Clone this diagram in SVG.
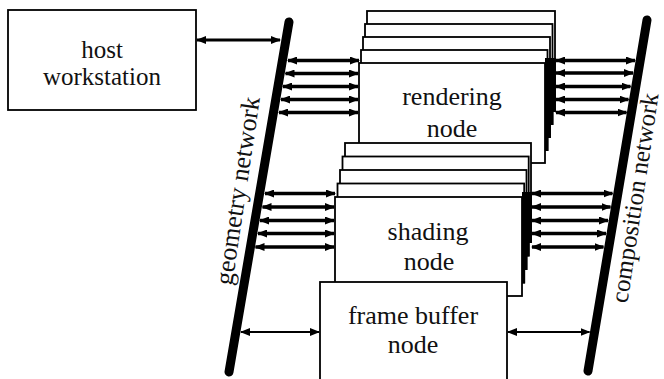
<svg xmlns="http://www.w3.org/2000/svg" width="664" height="379" viewBox="0 0 664 379">
<defs>
<style>
.box{fill:#fff;stroke:#000;stroke-width:1.8}
.band{fill:#000;stroke:none}
.lbl{font-family:"Liberation Serif","Times New Roman",serif;font-size:26px;fill:#111;text-anchor:middle}
.sm{font-size:25px}
.net{stroke:#000;stroke-width:9;stroke-linecap:round;fill:none}
.arr{stroke:#000;fill:none;marker-start:url(#ah);marker-end:url(#ah)}
.thick{stroke-width:3.5}
.mid{stroke-width:3}
.thin{stroke-width:2}
</style>
<marker id="ah" markerUnits="userSpaceOnUse" markerWidth="10" markerHeight="8" refX="9" refY="4" orient="auto-start-reverse">
<path d="M0,0 L10,4 L0,8 z" fill="#000"/>
</marker>
</defs>
<rect width="664" height="379" fill="#fff"/>

<g id="host">
<rect class="box" x="8" y="10" width="188" height="100"/>
<text class="lbl sm" x="102" y="58">host</text>
<text class="lbl sm" x="102" y="85">workstation</text>
</g>

<g id="rendering">
<rect class="box" x="367" y="11" width="188" height="100"/>
<rect class="box" x="365" y="24" width="187.5" height="100"/>
<rect class="box" x="363" y="37" width="187" height="100"/>
<rect class="box" x="361" y="50" width="186.5" height="100"/>
<rect class="box" x="359" y="63" width="186" height="100"/>
<polygon class="band" points="545,58 555.9,58 555.9,111.9 553.4,111.9 553.4,124.9 550.9,124.9 550.9,137.9 548.4,137.9 548.4,150.9 545,150.9"/>
<text class="lbl" x="452" y="105">rendering</text>
<text class="lbl" x="452" y="137">node</text>
</g>

<g id="shading">
<rect class="box" x="345" y="143" width="186" height="99"/>
<rect class="box" x="342.5" y="156.5" width="186.2" height="99"/>
<rect class="box" x="340" y="170" width="186.5" height="99"/>
<rect class="box" x="337.5" y="183.5" width="186.7" height="99"/>
<rect class="box" x="335" y="197" width="187" height="99"/>
<polygon class="band" points="522,192 531.9,192 531.9,242.9 529.6,242.9 529.6,256.4 527.4,256.4 527.4,269.9 525.1,269.9 525.1,283.4 522,283.4"/>
<text class="lbl" x="428" y="240">shading</text>
<text class="lbl" x="429" y="270">node</text>
</g>

<g id="framebuffer">
<rect class="box" x="320" y="282" width="187" height="110"/>
<text class="lbl" x="413" y="324">frame buffer</text>
<text class="lbl" x="413" y="353">node</text>
</g>

<g id="geometry-network">
<line class="net" x1="289" y1="22" x2="229" y2="372"/>
<text class="lbl" transform="translate(246,192) rotate(-81.5)">geometry network</text>
</g>

<g id="composition-network">
<line class="net" x1="647" y1="20" x2="588" y2="371"/>
<text class="lbl sm" transform="translate(643,199) rotate(-81.5)">composition network</text>
</g>

<g id="connectors">
<line class="arr mid" x1="197" y1="40" x2="280" y2="40"/>

<line class="arr thick" x1="288" y1="60.5" x2="359" y2="60.5"/>
<line class="arr thick" x1="285.5" y1="73.5" x2="358" y2="73.5"/>
<line class="arr thick" x1="283" y1="86.5" x2="358" y2="86.5"/>
<line class="arr thick" x1="281" y1="99.5" x2="358" y2="99.5"/>
<line class="arr thick" x1="279" y1="112.5" x2="358" y2="112.5"/>

<line class="arr thick" x1="556" y1="60.5" x2="635" y2="60.5"/>
<line class="arr thick" x1="556" y1="73" x2="633" y2="73"/>
<line class="arr thick" x1="556" y1="86.5" x2="630.5" y2="86.5"/>
<line class="arr thick" x1="556" y1="99.5" x2="628.5" y2="99.5"/>
<line class="arr thick" x1="556" y1="112.5" x2="626.5" y2="112.5"/>

<line class="arr thick" x1="265" y1="193.5" x2="335" y2="193.5"/>
<line class="arr thick" x1="262.5" y1="207" x2="334" y2="207"/>
<line class="arr thick" x1="260" y1="220.5" x2="334" y2="220.5"/>
<line class="arr thick" x1="258" y1="233.5" x2="334" y2="233.5"/>
<line class="arr thick" x1="255.5" y1="247" x2="334" y2="247"/>

<line class="arr thick" x1="532" y1="193.5" x2="612.5" y2="193.5"/>
<line class="arr thick" x1="532" y1="207" x2="610.5" y2="207"/>
<line class="arr thick" x1="532" y1="220.5" x2="608" y2="220.5"/>
<line class="arr thick" x1="532" y1="233.5" x2="606" y2="233.5"/>
<line class="arr thick" x1="532" y1="247" x2="603.5" y2="247"/>

<line class="arr thin" x1="241" y1="332" x2="319" y2="332"/>
<line class="arr thin" x1="508" y1="332" x2="589.5" y2="332"/>
</g>
</svg>
